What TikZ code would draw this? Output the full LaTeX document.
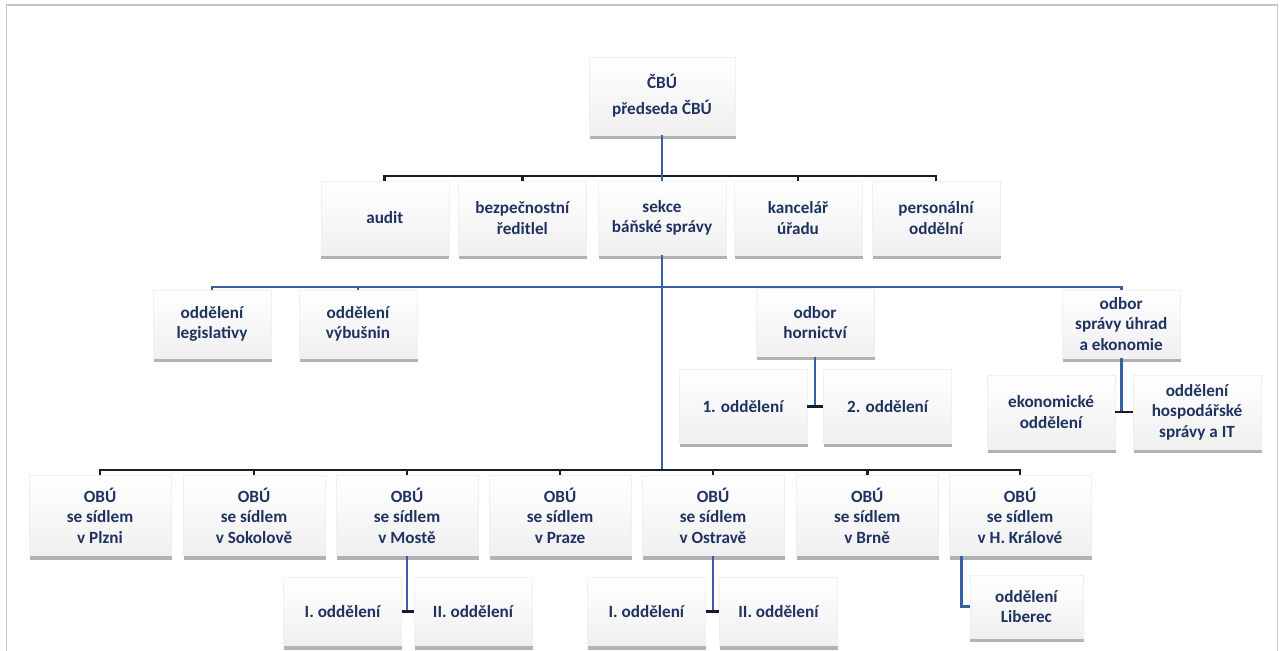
\documentclass[tikz,border=0pt]{standalone}
\usepackage{fontspec}
\setmainfont{Carlito}
\usepackage{xcolor}
\usepackage{tikz}
\usetikzlibrary{shadows}
\definecolor{navy}{RGB}{31,50,96}
\definecolor{linkblue}{RGB}{55,96,160}
\definecolor{linkdark}{RGB}{25,28,45}

\begin{document}
\begin{tikzpicture}[
    box/.style={rectangle, draw=gray!12, top color=white, bottom color=gray!12, align=center, text=navy,
      font=\bfseries\fontsize{12.2}{14.5}\selectfont, inner sep=2pt,
      drop shadow={shadow xshift=0.4pt, shadow yshift=-2.8pt, opacity=0.5, fill=gray!80!black}},
    wide/.style={box, minimum width=3.55cm, minimum height=2.0cm},
    mid/.style={box, minimum width=3.2cm, minimum height=1.85cm},
    small/.style={box, minimum width=2.95cm, minimum height=1.7cm},
    darklink/.style={draw=linkdark, line width=2pt},
    bluelink/.style={draw=linkblue, line width=2.1pt}]
        % Organisation chart of the mining office
        \useasboundingbox (0,0) rectangle (32.05,-16.25);
        \draw[gray!45, line width=1pt] (0.16,-0.13) rectangle (31.93,-17);

        \node[box, minimum width=3.65cm, minimum height=1.95cm] (cbu) at (16.55,-2.4) {ČBÚ\\[4pt]předseda ČBÚ};

        \node[mid] (audit) at (9.62,-5.45) {audit};
        \node[mid] (bezp) at (13.06,-5.45) {bezpečnostní\\ředitlel};
        \node[mid] (sekce) at (16.55,-5.45) {sekce\\báňské správy};
        \node[mid] (kanc) at (19.95,-5.45) {kancelář\\úřadu};
        \node[mid] (pers) at (23.4,-5.45) {personální\\oddělní};

        \node[small] (legis) at (5.3,-8.1) {oddělení\\legislativy};
        \node[small] (vybus) at (8.95,-8.1) {oddělení\\výbušnin};
        \node[small] (horn) at (20.375,-8.06) {odbor\\hornictví};
        \node[small] (uhrad) at (28.03,-8.1) {odbor\\správy úhrad\\a ekonomie};

        \node[mid] (odd1) at (18.575,-10.16) {1. oddělení};
        \node[mid] (odd2) at (22.19,-10.16) {2. oddělení};
        \node[mid] (ekon) at (26.275,-10.3) {ekonomické\\oddělení};
        \node[mid] (hosp) at (29.925,-10.3) {oddělení\\hospodářské\\správy a IT};

        \node[wide] (plzen) at (2.5,-12.89) {OBÚ\\se sídlem\\v Plzni};
        \node[wide] (sokol) at (6.35,-12.89) {OBÚ\\se sídlem\\v Sokolově};
        \node[wide] (most) at (10.175,-12.89) {OBÚ\\se sídlem\\v Mostě};
        \node[wide] (praha) at (14.0,-12.89) {OBÚ\\se sídlem\\v Praze};
        \node[wide] (ostrava) at (17.825,-12.89) {OBÚ\\se sídlem\\v Ostravě};
        \node[wide] (brno) at (21.68,-12.89) {OBÚ\\se sídlem\\v Brně};
        \node[wide] (kralove) at (25.5,-12.89) {OBÚ\\se sídlem\\v H. Králové};

        \node[small] (mostI) at (8.5625,-15.29) {I. oddělení};
        \node[small] (mostII) at (11.825,-15.29) {II. oddělení};
        \node[small] (ostrI) at (16.16,-15.29) {I. oddělení};
        \node[small] (ostrII) at (19.46,-15.29) {II. oddělení};
        \node[small, minimum width=2.83cm, minimum height=1.58cm] (liberec) at (25.66,-15.16) {oddělení\\Liberec};

        \coordinate (bus2) at (16.55,-4.4);
        \coordinate (bus3) at (16.55,-7.175);
        \coordinate (bus4) at (16.55,-11.75);

        \draw[darklink] (audit.north) |- (bus2) -| (pers.north);
        \draw[darklink] (bezp.north) -- (bezp.north |- bus2);
        \draw[darklink] (kanc.north) -- (kanc.north |- bus2);
        \draw[bluelink] (cbu.south) -- (bus2);
        \draw[bluelink] (sekce.north) -- (sekce.north |- bus2);

        \draw[bluelink] (legis.north) |- (bus3) -| (uhrad.north);
        \draw[bluelink] (vybus.north) -- (vybus.north |- bus3);
        \draw[bluelink] (horn.north) -- (horn.north |- bus3);
        \draw[bluelink] (sekce.south) -- (bus4);

        \draw[darklink] (plzen.north) |- (bus4) -| (kralove.north);
        \draw[darklink] (sokol.north) -- (sokol.north |- bus4);
        \draw[darklink] (most.north) -- (most.north |- bus4);
        \draw[darklink] (praha.north) -- (praha.north |- bus4);
        \draw[darklink] (ostrava.north) -- (ostrava.north |- bus4);
        \draw[darklink] (brno.north) -- (brno.north |- bus4);

        \draw[bluelink] (horn.south) -- (horn.south |- odd1.east);
        \draw[darklink] (odd1.east) -- (odd2.west);
        \draw[bluelink] (uhrad.south) -- (uhrad.south |- ekon.east);
        \draw[darklink] (ekon.east) -- (hosp.west);
        \draw[bluelink] (most.south) -- (most.south |- mostI.east);
        \draw[darklink] (mostI.east) -- (mostII.west);
        \draw[bluelink] (ostrava.south) -- (ostrava.south |- ostrI.east);
        \draw[darklink] (ostrI.east) -- (ostrII.west);
        \draw[bluelink] ([xshift=0.33cm]kralove.south west) |- (liberec.west);
    \end{tikzpicture}
\end{document}
